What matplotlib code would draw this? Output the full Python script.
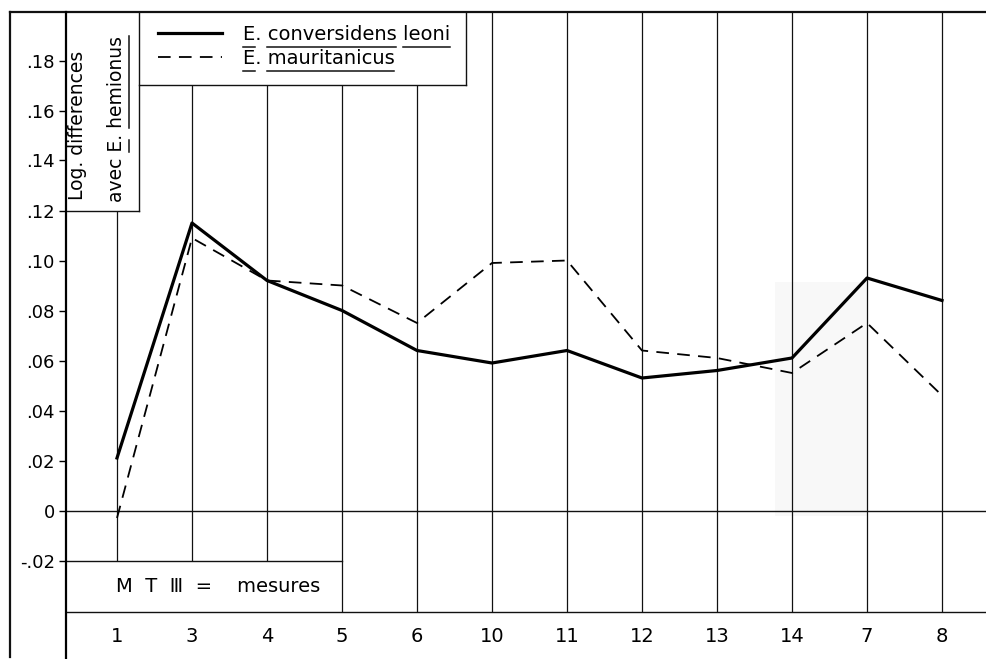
import numpy as np
import matplotlib
matplotlib.use("Agg")
import matplotlib.pyplot as plt
from matplotlib.lines import Line2D
from matplotlib.patches import Rectangle
from matplotlib.transforms import IdentityTransform

# mesures du MT III, dans l'ordre du graphique
mesures = ["1", "3", "4", "5", "6", "10", "11", "12", "13", "14", "7", "8"]
leoni = [0.021, 0.115, 0.092, 0.080, 0.064, 0.059, 0.064, 0.053, 0.056, 0.061, 0.093, 0.084]
mauritanicus = [-0.003, 0.109, 0.092, 0.090, 0.075, 0.099, 0.100, 0.064, 0.061, 0.055, 0.075, 0.046]

yticks = [-0.02, 0.0, 0.02, 0.04, 0.06, 0.08, 0.10, 0.12, 0.14, 0.16, 0.18]
ytick_labels = ["-.02", "0", ".02", ".04", ".06", ".08", ".10", ".12", ".14", ".16", ".18"]

plt.rcParams['font.family'] = ['DejaVu Sans']

fig = plt.figure(figsize=(9.87, 6.59), dpi=100)
ax = fig.add_axes([66 / 987, 0, 921 / 987, 1])
x = np.arange(len(mesures))
x_left, x_right = -0.68, 11.6
ax.set_xlim(x_left, x_right)
ax.set_ylim(-0.0594, 0.2042)

# cadre
top = 0.1994
row = -0.0406
frame_left = -1.427
ylab_right, ylab_bottom = 0.293, 0.12
leg_right, leg_bottom = 4.65, 0.17
lc = '#111111'

for s in ['top', 'right', 'bottom']:
    ax.spines[s].set_visible(False)
ax.spines['left'].set_bounds(-0.0594, top)
ax.spines['left'].set_linewidth(1.6)
ax.set_xticks([])
ax.set_yticks(yticks, ytick_labels)
ax.tick_params(axis='y', length=5, width=1, pad=3, labelsize=13)

ax.plot([frame_left, x_right], [top, top], color=lc, lw=1.6, clip_on=False)
ax.plot([frame_left, frame_left], [-0.0585, top], color=lc, lw=1.6, clip_on=False)

# boites titre / legende / mesures
ax.plot([ylab_right, ylab_right], [ylab_bottom, top], color=lc, lw=1.0)
ax.plot([x_left, ylab_right], [ylab_bottom, ylab_bottom], color=lc, lw=1.0)
ax.plot([ylab_right, leg_right], [leg_bottom, leg_bottom], color=lc, lw=1.0)
ax.plot([leg_right, leg_right], [leg_bottom, top], color=lc, lw=1.0)
ax.plot([x_left, x_right], [0, 0], color=lc, lw=1.0)
ax.plot([x_left, x_right], [row, row], color=lc, lw=1.0)
ax.plot([x_left, 3], [-0.02, -0.02], color=lc, lw=1.0)

# verticales
tops = np.where(x < 1, ylab_bottom, np.where(x < 5, leg_bottom, top))
bottoms = np.where(x < 3, -0.02, row)
ax.vlines(x, bottoms, tops, color=lc, lw=0.9, zorder=1)

ax.add_patch(Rectangle((8.77, -0.002), 1.23, 0.0934, color='#f8f8f8', lw=0, zorder=0))

ax.plot(x, leoni, color='k', lw=2.3, zorder=3, label="E. conversidens leoni")
ax.plot(x, mauritanicus, color='k', lw=1.3, dashes=(7, 4.6), zorder=3, label="E. mauritanicus")

leg = ax.legend(loc='upper left', bbox_to_anchor=(158 / 987, 1 - 25 / 659),
                bbox_transform=fig.transFigure, frameon=False, borderpad=0,
                borderaxespad=0, handlelength=3.3, handletextpad=1.05,
                labelspacing=0.25, fontsize=14)

for xi, lab in zip(x, mesures):
    ax.text(xi, -0.0502, lab, ha='center', va='center', fontsize=14)
ax.text(1.35, -0.0302, "M  T  Ⅲ  =    mesures", ha='center', va='center', fontsize=14)

t1 = ax.text(-0.45, 0.1242, "Log. differences", rotation=90, rotation_mode='anchor',
             ha='left', va='baseline', fontsize=13.5)
t2 = ax.text(0.06, 0.1234, "avec E. hemionus", rotation=90, rotation_mode='anchor',
             ha='left', va='baseline', fontsize=13.5)


def underline(t, words, renderer, vertical=False):
    s = t.get_text()
    prop = t.get_fontproperties()
    bb = t.get_window_extent(renderer)
    d = renderer.get_text_width_height_descent(s, prop, ismath=False)[2]
    pos = 0
    for w in words:
        i = s.index(w, pos)
        pos = i + len(w)
        end = renderer.get_text_width_height_descent(s[:pos], prop, ismath=False)[0]
        ww = renderer.get_text_width_height_descent(w, prop, ismath=False)[0]
        if vertical:
            xb = bb.x1 - d + 3
            xs, ys = [xb, xb], [bb.y0 + end - ww, bb.y0 + end]
        else:
            yb = bb.y0 + d - 3
            xs, ys = [bb.x0 + end - ww, bb.x0 + end], [yb, yb]
        fig.add_artist(Line2D(xs, ys, color=lc, lw=1.1, transform=IdentityTransform()))


fig.canvas.draw()
r = fig.canvas.get_renderer()
lt = leg.get_texts()
underline(lt[0], ["E", "conversidens", "leoni"], r)
underline(lt[1], ["E", "mauritanicus"], r)
underline(t2, ["E", "hemionus"], r, vertical=True)

fig.savefig("out.png", dpi=100)
